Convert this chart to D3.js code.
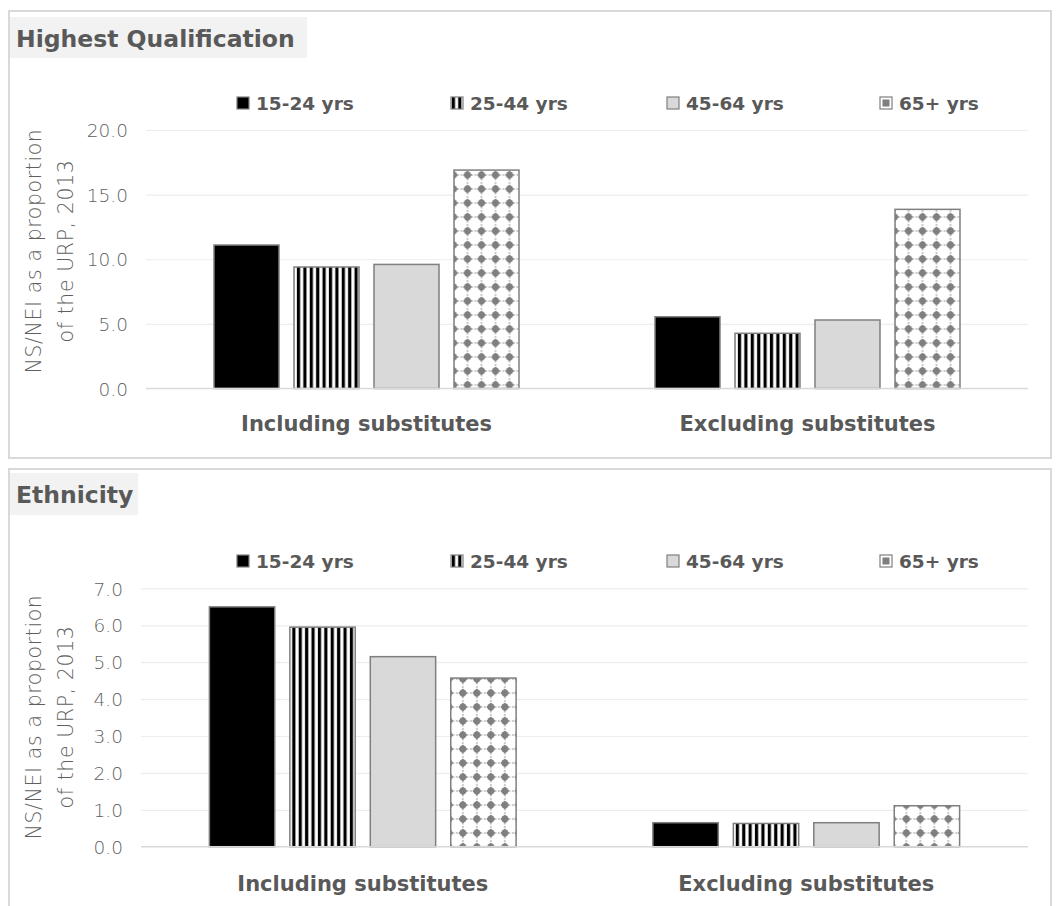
<!DOCTYPE html>
<html>
<head>
<meta charset="utf-8">
<script src="https://cdn.jsdelivr.net/npm/d3@7"></script>
<style>
  html, body { margin: 0; padding: 0; background: #ffffff; }
  svg { display: block; font-family: "DejaVu Sans", sans-serif; }
</style>
</head>
<body>
<svg id="chart" width="1057" height="906"></svg>
<script>
// Categories, age groups and values for the two panels
const categories = ["Including substitutes", "Excluding substitutes"];
const ageGroups = ["15-24 yrs", "25-44 yrs", "45-64 yrs", "65+ yrs"];

const qualificationIncluding = [11.1, 9.4, 9.6, 16.9];
const qualificationExcluding = [5.55, 4.27, 5.3, 13.86];
const ethnicityIncluding = [6.5, 5.95, 5.15, 4.57];
const ethnicityExcluding = [0.65, 0.63, 0.65, 1.11];

const qualificationTicks = [0, 5, 10, 15, 20];
const ethnicityTicks = [0, 1, 2, 3, 4, 5, 6, 7];

const panelTitles = ["Highest Qualification", "Ethnicity"];
const axisTitleLines = ["NS/NEI as a proportion", "of the URP, 2013"];

const svg = d3.select("#chart");
const defs = svg.append("defs");

// Vertical stripe fill (25-44)
const stripes = defs.append("pattern")
  .attr("id", "stripes").attr("patternUnits", "userSpaceOnUse")
  .attr("width", 6.4).attr("height", 10);
stripes.append("rect").attr("width", 6.4).attr("height", 10).attr("fill", "#ffffff");
stripes.append("rect").attr("x", 0.8).attr("width", 3.2).attr("height", 10).attr("fill", "#000000");

// Dotted grid fill (65+)
const dots = defs.append("pattern")
  .attr("id", "dots").attr("patternUnits", "userSpaceOnUse")
  .attr("width", 14).attr("height", 14).attr("x", 2).attr("y", 0);
dots.append("rect").attr("width", 14).attr("height", 14).attr("fill", "#ffffff");
dots.append("line").attr("x1", 0).attr("x2", 14).attr("y1", 7).attr("y2", 7)
  .attr("stroke", "#9a9a9a").attr("stroke-width", 1).attr("stroke-dasharray", "2,1.5");
dots.append("line").attr("y1", 0).attr("y2", 14).attr("x1", 7).attr("x2", 7)
  .attr("stroke", "#9a9a9a").attr("stroke-width", 1).attr("stroke-dasharray", "2,1.5");
dots.append("path").attr("d", "M7,2.6 L11.4,7 L7,11.4 L2.6,7 Z").attr("fill", "#7f7f7f");
dots.append("circle").attr("cx", 7).attr("cy", 7).attr("r", 3.4).attr("fill", "#7f7f7f");

const fills = ["#000000", "url(#stripes)", "#d9d9d9", "url(#dots)"];
const textGray = "#595959";

const panels = [
  {
    title: panelTitles[0], including: qualificationIncluding, excluding: qualificationExcluding,
    ticks: qualificationTicks, frame: [9, 11, 1051, 458], titleBox: [10, 17, 297, 41],
    x: [146, 1028], y: [388.5, 130], legendY: 103, catY: 431, axisTitleY: 251
  },
  {
    title: panelTitles[1], including: ethnicityIncluding, excluding: ethnicityExcluding,
    ticks: ethnicityTicks, frame: [9, 469, 1051, 930], titleBox: [10, 473, 128, 42],
    x: [141, 1028], y: [846.7, 588.4], legendY: 561, catY: 891, axisTitleY: 717
  }
];

panels.forEach(p => {
  const g = svg.append("g");

  // Panel frame
  g.append("rect")
    .attr("x", p.frame[0]).attr("y", p.frame[1])
    .attr("width", p.frame[2] - p.frame[0]).attr("height", p.frame[3] - p.frame[1])
    .attr("fill", "none").attr("stroke", "#d9d9d9").attr("stroke-width", 2);

  // Title tab
  g.append("rect")
    .attr("x", p.titleBox[0]).attr("y", p.titleBox[1])
    .attr("width", p.titleBox[2]).attr("height", p.titleBox[3])
    .attr("fill", "#f2f2f2");
  g.append("text")
    .attr("x", p.titleBox[0] + 6).attr("y", p.titleBox[1] + 30)
    .attr("fill", textGray).attr("font-size", 23.5).attr("font-weight", "bold")
    .text(p.title);

  const maxTick = p.ticks[p.ticks.length - 1];
  const y = d3.scaleLinear().domain([0, maxTick]).range(p.y);
  const x0 = d3.scaleBand().domain(categories).range(p.x)
    .paddingInner(0.2744).paddingOuter(0.1372);
  const x1 = d3.scaleBand().domain(ageGroups).range([0, x0.bandwidth()])
    .paddingInner(0.1875).paddingOuter(0.09375);

  // Gridlines
  const grid = g.append("g").attr("transform", `translate(${p.x[0]},0)`)
    .call(d3.axisLeft(y).tickValues(p.ticks.slice(1)).tickSize(-(p.x[1] - p.x[0])).tickFormat(""));
  grid.select(".domain").remove();
  grid.selectAll("line").attr("stroke", "#ededed").attr("stroke-width", 1.2);

  // Tick labels
  const axis = g.append("g").attr("transform", `translate(${p.x[0] - 18},0)`)
    .call(d3.axisLeft(y).tickValues(p.ticks).tickSize(0).tickFormat(d3.format(".1f")));
  axis.select(".domain").remove();
  axis.selectAll("text").attr("fill", "#5f5f5f").attr("font-size", 18.5)
    .attr("font-family", "'DejaVu Sans', sans-serif").attr("font-weight", 200)
    .attr("dy", "0.36em").attr("x", 0);

  // Axis title (two rotated lines)
  const at = g.append("text")
    .attr("transform", `translate(47,${p.axisTitleY}) rotate(-90)`)
    .attr("text-anchor", "middle").attr("fill", "#5f5f5f")
    .attr("font-size", 20.5).attr("font-weight", 200).attr("letter-spacing", 0.6);
  at.append("tspan").attr("x", 0).attr("y", -6).text(axisTitleLines[0]);
  at.append("tspan").attr("x", 0).attr("y", 26).text(axisTitleLines[1]);

  // Bars
  const rows = categories.map((c, i) => ({
    category: c,
    values: ageGroups.map((a, j) => ({ age: a, idx: j, value: (i === 0 ? p.including : p.excluding)[j] }))
  }));

  const groups = g.append("g").selectAll("g").data(rows).join("g")
    .attr("transform", d => `translate(${x0(d.category)},0)`);
  groups.selectAll("rect").data(d => d.values).join("rect")
    .attr("x", d => x1(d.age))
    .attr("y", d => y(d.value))
    .attr("width", x1.bandwidth())
    .attr("height", d => y(0) - y(d.value))
    .attr("fill", d => fills[d.idx])
    .attr("stroke", "#7f7f7f").attr("stroke-width", 1.5);

  // Baseline
  g.append("line")
    .attr("x1", p.x[0]).attr("x2", p.x[1]).attr("y1", y(0)).attr("y2", y(0))
    .attr("stroke", "#d9d9d9").attr("stroke-width", 1.5);

  // Category labels
  g.append("g").selectAll("text").data(categories).join("text")
    .attr("x", d => x0(d) + x0.bandwidth() / 2)
    .attr("y", p.catY)
    .attr("text-anchor", "middle").attr("fill", textGray)
    .attr("font-size", 21).attr("font-weight", "bold")
    .text(d => d);

  // Legend
  const legendX = [237, 451, 667, 880];
  const lg = g.append("g").selectAll("g").data(ageGroups).join("g")
    .attr("transform", (d, i) => `translate(${legendX[i]},${p.legendY})`);
  lg.append("rect")
    .attr("x", 0).attr("y", -6).attr("width", 12).attr("height", 12)
    .attr("fill", (d, i) => i === 3 ? "#ffffff" : fills[i])
    .attr("stroke", "#7f7f7f").attr("stroke-width", 1.2);
  lg.filter((d, i) => i === 3).append("rect")
    .attr("x", 2.5).attr("y", -3.5).attr("width", 7).attr("height", 7).attr("fill", "#7f7f7f");
  lg.append("text")
    .attr("x", 19).attr("y", 0).attr("dy", "0.36em")
    .attr("fill", textGray).attr("font-size", 18.5).attr("font-weight", "bold")
    .text(d => d);
});
</script>
</body>
</html>
